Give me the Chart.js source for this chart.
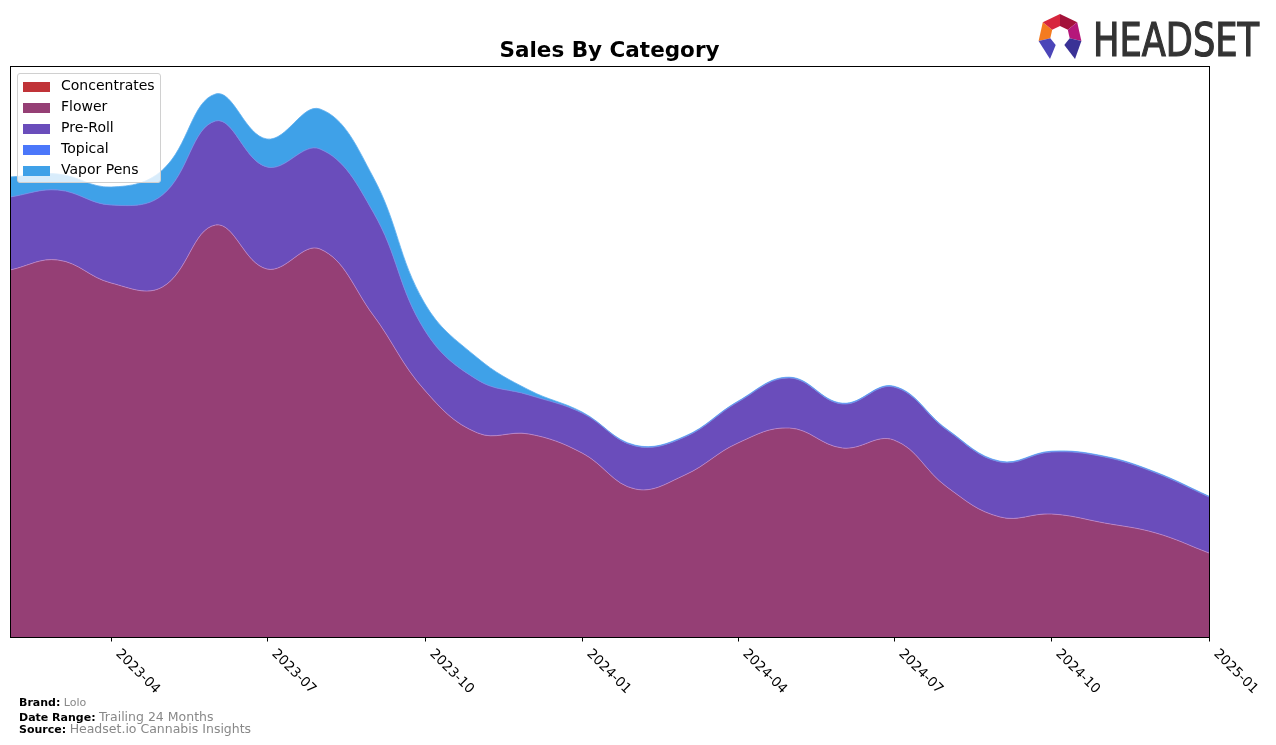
<!DOCTYPE html>
<html>
<head>
<meta charset="utf-8">
<script src="https://cdn.jsdelivr.net/npm/chart.js@4/dist/chart.umd.min.js"></script>
<style>
  html, body { margin: 0; padding: 0; background: #fff; }
  #wrap { position: relative; width: 1276px; height: 745px; overflow: hidden; font-family: "DejaVu Sans", sans-serif; }
  canvas { position: absolute; left: 0; top: 0; }
  #title { position: absolute; left: 10px; width: 1199px; top: 37px; text-align: center; font-weight: bold; font-size: 21.5px; line-height: 26px; color: #000; }
  #legend { position: absolute; left: 17px; top: 73px; width: 142px; height: 108px; background: rgba(255,255,255,0.8); border: 1px solid #d0d0d0; border-radius: 3px; }
  .li { position: absolute; left: 5px; height: 14px; font-size: 14px; color: #000; }
  .li span.sw { position: absolute; left: 0; top: 2px; width: 27px; height: 10px; }
  .li span.tx { position: absolute; left: 38px; top: -3px; white-space: nowrap; }
  .fl { position: absolute; left: 19px; font-size: 11px; color: #000; white-space: nowrap; }
  .fl b { font-weight: bold; }
  .fl .v { color: #888; }
</style>
</head>
<body>
<div id="wrap">
  <canvas id="c" width="1276" height="745"></canvas>
  <div id="title">Sales By Category</div>
  <div id="legend"></div>
  <svg id="logo" width="1276" height="70" style="position:absolute;left:0;top:0" xmlns="http://www.w3.org/2000/svg">
    <polygon points="1042.8,22.3 1052.2,29.8 1050.3,38.2 1038.6,40.9" fill="#f47b20"/>
    <polygon points="1042.8,22.3 1060,14 1060,26 1052.2,29.8" fill="#d7263d"/>
    <polygon points="1060,14 1077.2,22.3 1067.8,29.8 1060,26" fill="#a3123a"/>
    <polygon points="1077.2,22.3 1081.4,40.9 1069.7,38.2 1067.8,29.8" fill="#b5177a"/>
    <polygon points="1038.6,40.9 1050.3,38.2 1055.7,45 1050,59" fill="#4b45b8"/>
    <polygon points="1081.4,40.9 1069.7,38.2 1064.3,45 1075,59" fill="#3a3296"/>
    <text x="1093" y="55.5" font-family="'Liberation Sans Narrow','DejaVu Sans Condensed','Liberation Sans',sans-serif" font-size="47" fill="#333" stroke="#333" stroke-width="1.2" textLength="166" lengthAdjust="spacingAndGlyphs">HEADSET</text>
  </svg>
  <div class="fl" style="top:696px"><b>Brand:</b> <span class="v" style="font-size:11px">Lolo</span></div>
  <div class="fl" style="top:709px"><b>Date Range:</b> <span class="v" style="font-size:12.5px">Trailing 24 Months</span></div>
  <div class="fl" style="top:721px"><b>Source:</b> <span class="v" style="font-size:12.5px">Headset.io Cannabis Insights</span></div>
</div>
<script>
const months = ['2023-02','2023-03','2023-04','2023-05','2023-06','2023-07','2023-08','2023-09','2023-10','2023-11','2023-12',
  '2024-01','2024-02','2024-03','2024-04','2024-05','2024-06','2024-07','2024-08','2024-09','2024-10','2024-11','2024-12','2025-01'];
const concentrates = [0,0,0,0,0,0,0,0,0,0,0,0,0,0,0,0,0,0,0,0,0,0,0,0];
const flower = [367,377,354,350,412,368,388,322,247,204,203,184,148,162,194,209,189,197,150,120,123,114,104,84];
const preRoll = [73,70,78,92,104,102,100,103,60,53,39,40,43,38,41,50,44,53,57,55,62,66,60,56];
const topical = [0,0,0,0,0,0,0,0,0,0,0,0,0.3,0.3,0.3,0.3,0.3,0.3,0.3,0.3,0.3,0.3,0.3,0.3];
const vaporPens = [20,16,18,25,27,28,40,35,27,22,5,1,0.5,0.5,0.5,0.5,0.5,0.5,0.5,0.5,0.5,0.5,0.5,0.5];
const tickLabels = ['2023-04','2023-07','2023-10','2024-01','2024-04','2024-07','2024-10','2025-01'];
const seriesNames = ['Concentrates','Flower','Pre-Roll','Topical','Vapor Pens'];
const seriesColors = ['#c03338','#953f75','#6a4dbb','#4b77fa','#3fa1e8'];

function dayOf(m) { const [y, mo] = m.split('-').map(Number); return Date.UTC(y, mo - 1, 1) / 86400000; }
const xs = months.map(dayOf);
const series = [concentrates, flower, preRoll, topical, vaporPens];
const borders = ['rgba(0,0,0,0)','rgba(190,140,210,0.9)','rgba(120,150,230,0.9)','rgba(90,140,250,0.9)','rgba(95,176,240,1)'];

const datasets = series.map((vals, i) => ({
  label: seriesNames[i],
  data: vals.map((v, j) => ({ x: xs[j], y: v })),
  backgroundColor: seriesColors[i],
  borderColor: borders[i],
  borderWidth: i === 0 ? 0 : 0.8,
  pointRadius: 0,
  tension: 0.4,
  fill: i === 0 ? 'origin' : '-1'
}));

const framePlugin = {
  id: 'frame',
  afterDraw(chart) {
    const ctx = chart.ctx, a = chart.chartArea, sx = chart.scales.x;
    ctx.save();
    ctx.strokeStyle = '#000';
    ctx.lineWidth = 1;
    ctx.strokeRect(Math.round(a.left) + 0.5, Math.round(a.top) + 0.5, Math.round(a.right - a.left), Math.round(a.bottom - a.top));
    ctx.fillStyle = '#000';
    ctx.font = '13.5px "DejaVu Sans"';
    ctx.textAlign = 'left';
    ctx.textBaseline = 'top';
    tickLabels.forEach(t => {
      const px = Math.round(sx.getPixelForValue(dayOf(t))) + 0.5;
      ctx.beginPath();
      ctx.moveTo(px, a.bottom);
      ctx.lineTo(px, a.bottom + 4.5);
      ctx.stroke();
      ctx.save();
      ctx.translate(px + 6, a.bottom + 15);
      ctx.rotate(Math.PI / 4);
      ctx.fillText(t, 0, -7);
      ctx.restore();
    });
    ctx.restore();
  }
};

new Chart(document.getElementById('c'), {
  type: 'line',
  data: { datasets },
  options: {
    responsive: false,
    animation: false,
    events: [],
    layout: { padding: { left: 10, right: 67, top: 66, bottom: 0 } },
    plugins: { legend: { display: false }, title: { display: false }, tooltip: { enabled: false } },
    scales: {
      x: {
        type: 'linear',
        min: xs[0],
        max: xs[xs.length - 1],
        grid: { display: false },
        border: { display: false },
        ticks: { display: false },
        afterFit(s) { s.height = 108; }
      },
      y: {
        display: false,
        stacked: true,
        min: 0,
        max: 571
      }
    }
  },
  plugins: [framePlugin]
});

const leg = document.getElementById('legend');
seriesNames.forEach((n, i) => {
  const d = document.createElement('div');
  d.className = 'li';
  d.style.top = (6 + i * 21) + 'px';
  d.innerHTML = '<span class="sw" style="background:' + seriesColors[i] + '"></span><span class="tx">' + n + '</span>';
  leg.appendChild(d);
});
</script>
</body>
</html>
